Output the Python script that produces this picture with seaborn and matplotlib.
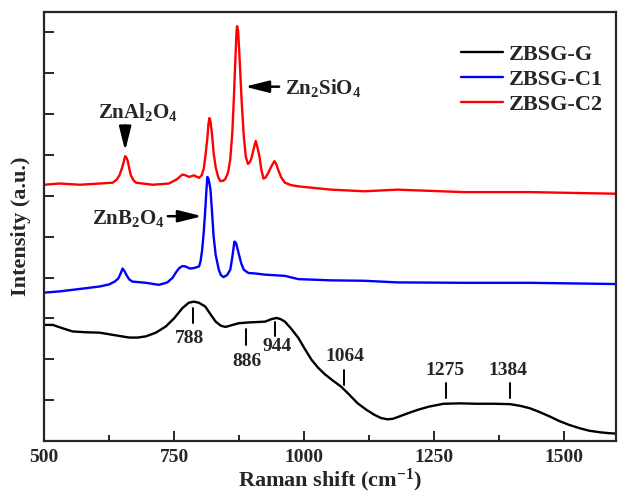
import matplotlib
matplotlib.use("Agg")
import matplotlib.pyplot as plt
import pandas as pd
import seaborn as sns


# =========================================================
# DATA
# =========================================================

samples = ["ZBSG-G", "ZBSG-C1", "ZBSG-C2"]
colors = ["black", "#0000ff", "#ff0000"]

g_shift = [500, 517, 535, 555, 580, 607, 635, 664, 680, 696, 715, 734, 750,
           766, 778, 788, 798, 810, 820, 830, 840, 849, 860, 874, 893, 910,
           925, 937, 947, 955, 963, 975, 989, 1000, 1014, 1027, 1040, 1055,
           1071, 1087, 1103, 1120, 1135, 1148, 1160, 1170, 1179, 1200, 1218,
           1240, 1268, 1300, 1331, 1365, 1396, 1415, 1434, 1452, 1472, 1490,
           1510, 1530, 1548, 1570, 1586, 1600]
g_int = [2.84, 2.84, 2.76, 2.68, 2.66, 2.65, 2.59, 2.53, 2.53, 2.56, 2.65,
         2.80, 3.00, 3.25, 3.38, 3.41, 3.38, 3.29, 3.10, 2.92, 2.82, 2.79,
         2.83, 2.88, 2.90, 2.91, 2.92, 2.98, 3.01, 2.98, 2.92, 2.75, 2.52,
         2.28, 1.99, 1.79, 1.63, 1.48, 1.33, 1.13, 0.92, 0.76, 0.64, 0.56,
         0.53, 0.54, 0.58, 0.68, 0.76, 0.84, 0.91, 0.92, 0.91, 0.91, 0.90,
         0.86, 0.80, 0.71, 0.60, 0.49, 0.39, 0.31, 0.25, 0.21, 0.19, 0.18]

c1_shift = [500, 530, 569, 607, 625, 636, 643, 648, 651, 655, 659, 664, 670,
            696, 721, 737, 747, 755, 760, 766, 772, 780, 788, 798, 801, 804,
            807, 810, 812, 814, 816, 818, 820, 823, 826, 830, 836, 840, 845,
            852, 858, 862, 866, 869, 872, 875, 879, 884, 893, 905, 925, 963,
            989, 1052, 1116, 1179, 1307, 1434, 1600]
c1_int = [3.63, 3.66, 3.72, 3.78, 3.83, 3.90, 3.98, 4.12, 4.22, 4.15, 4.05,
          3.95, 3.90, 3.87, 3.82, 3.88, 3.99, 4.15, 4.23, 4.28, 4.27, 4.22,
          4.23, 4.27, 4.40, 4.68, 5.10, 5.66, 6.10, 6.46, 6.42, 6.30, 6.15,
          5.60, 5.01, 4.55, 4.19, 4.06, 4.01, 4.06, 4.19, 4.50, 4.88, 4.85,
          4.70, 4.55, 4.35, 4.19, 4.11, 4.10, 4.07, 4.04, 3.96, 3.93, 3.92,
          3.88, 3.87, 3.87, 3.84]

c2_shift = [500, 530, 569, 607, 632, 640, 645, 650, 653, 656, 659, 661, 664,
            667, 672, 677, 709, 740, 755, 766, 772, 779, 788, 798, 803, 807,
            810, 814, 816, 818, 820, 823, 826, 830, 835, 839, 845, 849, 854,
            858, 862, 865, 868, 870, 871, 873, 875, 877, 880, 884, 888, 892,
            896, 899, 903, 907, 910, 914, 918, 922, 926, 931, 937, 943, 947,
            950, 956, 963, 975, 989, 1020, 1052, 1116, 1179, 1307, 1434, 1600]
c2_int = [6.27, 6.30, 6.27, 6.30, 6.32, 6.40, 6.50, 6.68, 6.82, 6.97, 6.92,
          6.85, 6.66, 6.50, 6.38, 6.32, 6.27, 6.30, 6.40, 6.52, 6.50, 6.46,
          6.50, 6.44, 6.50, 6.66, 6.95, 7.40, 7.75, 7.90, 7.82, 7.50, 7.05,
          6.70, 6.45, 6.36, 6.37, 6.42, 6.58, 6.89, 7.55, 8.40, 9.40, 10.00,
          10.15, 10.05, 9.60, 9.09, 8.30, 7.46, 6.95, 6.78, 6.83, 6.93, 7.15,
          7.34, 7.20, 6.97, 6.62, 6.42, 6.45, 6.56, 6.72, 6.85, 6.76, 6.64,
          6.45, 6.32, 6.26, 6.23, 6.19, 6.15, 6.11, 6.15, 6.09, 6.09, 6.05]

# band labels on the ZBSG-G curve
band_labels = ["788", "886", "944", "1064", "1275", "1384"]
band_mark_x = [787, 888, 944, 1076, 1273, 1396]
band_mark_y0 = [2.89, 2.35, 2.56, 1.37, 1.05, 1.05]
band_mark_y1 = [3.26, 2.75, 2.92, 1.74, 1.42, 1.42]
band_text_x = [780, 891, 948, 1078, 1271, 1391]
band_text_y = [2.50, 1.95, 2.32, 2.07, 1.73, 1.73]

# phase labels: text, text position, arrow start, arrow end
phase_labels = ["ZnAl$_2$O$_4$", "Zn$_2$SiO$_4$", "ZnB$_2$O$_4$"]
phase_text_xy = [(681, 8.04), (963, 8.63), (733, 5.45)]
phase_text_ha = ["center", "left", "right"]
phase_arrow_from = [(656, 7.72), (952, 8.67), (738, 5.50)]
phase_arrow_to = [(656, 7.10), (886, 8.67), (804, 5.50)]


# =========================================================
# STYLE
# =========================================================

sns.set_style("ticks")

plt.rcParams["font.family"] = ["Liberation Serif", "DejaVu Serif"]
plt.rcParams["font.weight"] = "bold"
plt.rcParams["mathtext.fontset"] = "custom"
plt.rcParams["mathtext.rm"] = "Liberation Serif:bold"
plt.rcParams["mathtext.it"] = "Liberation Serif:bold"
plt.rcParams["mathtext.bf"] = "Liberation Serif:bold"
plt.rcParams["mathtext.default"] = "rm"


# =========================================================
# BUILD TABLE
# =========================================================

frames = []
for name, xs, ys in zip(samples,
                        [g_shift, c1_shift, c2_shift],
                        [g_int, c1_int, c2_int]):
    frames.append(pd.DataFrame({"shift": xs, "intensity": ys, "sample": name}))

df = pd.concat(frames, ignore_index=True)


# =========================================================
# PLOT
# =========================================================

fig = plt.figure(figsize=(6.18, 4.96), dpi=100)
ax = fig.add_axes([0.0712, 0.111, 0.926, 0.865])

sns.lineplot(
    data=df,
    x="shift",
    y="intensity",
    hue="sample",
    hue_order=samples,
    palette=colors,
    estimator=None,
    sort=False,
    linewidth=1.7,
    ax=ax
)

ax.set_xlim(500, 1600)
ax.set_ylim(0, 10.5)

ax.set_xticks([500, 750, 1000, 1250, 1500])
ax.set_xticks([625, 875, 1125, 1375], minor=True)
ax.set_yticks(range(1, 11))
ax.set_yticklabels([])

ax.tick_params(axis="both", which="major", direction="in", length=7,
               width=1.4, labelsize=14)
ax.tick_params(axis="x", which="minor", direction="in", length=4, width=1.4)
ax.tick_params(axis="x", pad=6)

for side in ["left", "right", "top", "bottom"]:
    ax.spines[side].set_visible(True)
    ax.spines[side].set_linewidth(1.6)

ax.set_xlabel("Raman shift (cm$^{-1}$)", fontsize=16, fontweight="bold",
              labelpad=0)
ax.set_ylabel("Intensity (a.u.)", fontsize=16, fontweight="bold", labelpad=6)

# legend
leg = ax.legend(
    loc="upper right",
    bbox_to_anchor=(0.976, 0.925),
    frameon=False,
    fontsize=16,
    handlelength=1.9,
    labelspacing=0.2,
    handletextpad=0.25,
    borderpad=0,
    borderaxespad=0
)
for line in leg.get_lines():
    line.set_linewidth(1.7)

# phase annotations
for lab, txy, ha, a0, a1 in zip(phase_labels, phase_text_xy, phase_text_ha,
                                phase_arrow_from, phase_arrow_to):
    ax.text(txy[0], txy[1], lab, ha=ha, va="center", fontsize=15,
            fontweight="bold")
    ax.annotate("", xy=a1, xytext=a0,
                arrowprops=dict(arrowstyle="-|>,head_length=0.8,head_width=0.2",
                                color="black", lw=1.8, shrinkA=0, shrinkB=0,
                                mutation_scale=18))

# band marks on ZBSG-G
for lab, mx, y0, y1, tx, ty in zip(band_labels, band_mark_x, band_mark_y0,
                                   band_mark_y1, band_text_x, band_text_y):
    ax.plot([mx, mx], [y0, y1], color="black", lw=1.4)
    ax.text(tx, ty, lab, ha="center", va="center", fontsize=14,
            fontweight="bold")

plt.savefig("out.png", dpi=100)
plt.close()
